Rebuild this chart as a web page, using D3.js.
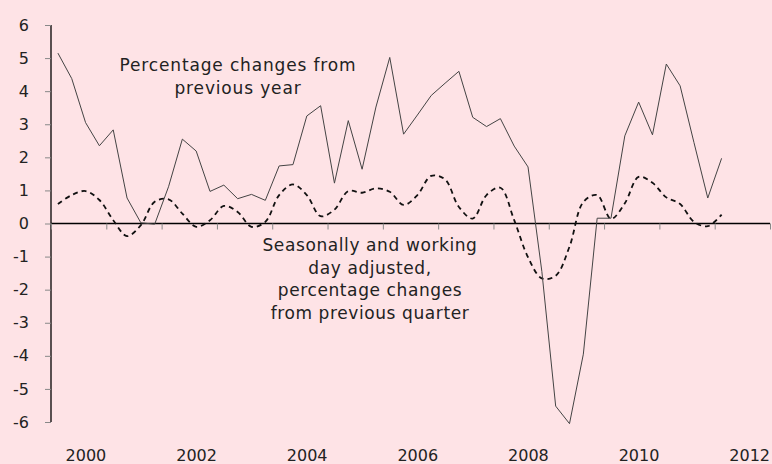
<!DOCTYPE html>
<html>
<head>
<meta charset="utf-8">
<script src="https://cdn.jsdelivr.net/npm/d3@7"></script>
<style>
  html, body { margin: 0; padding: 0; background: #fee3e6; }
  svg text { font-family: "DejaVu Sans", sans-serif; fill: #222; }
</style>
</head>
<body>
<div id="chart"></div>
<script>
// quarters 1999Q1 .. 2011Q1
const quarters = [];
for (let yr = 1999; yr <= 2011; yr++) {
  for (let q = 1; q <= 4; q++) {
    if (yr === 2011 && q > 1) break;
    quarters.push(yr + "Q" + q);
  }
}
// percentage changes from previous year (solid)
const yoy = [
  5.15, 4.38, 3.05, 2.35, 2.83, 0.77, 0.02, -0.02, 1.11, 2.55, 2.19, 0.97,
  1.16, 0.75, 0.88, 0.70, 1.74, 1.78, 3.25, 3.56, 1.22, 3.11, 1.64, 3.52,
  5.02, 2.70, 3.28, 3.87, 4.24, 4.60, 3.21, 2.93, 3.17, 2.34, 1.71, -1.45,
  -5.52, -6.05, -3.95, 0.16, 0.16, 2.65, 3.67, 2.68, 4.82, 4.16, 2.45, 0.77,
  1.97
];
// seasonally adjusted, changes from previous quarter (dashed)
const qoq = [
  0.59, 0.86, 0.98, 0.71, 0.10, -0.38, -0.05, 0.66, 0.73, 0.30, -0.10, 0.10,
  0.53, 0.35, -0.10, 0.05, 0.86, 1.18, 0.86, 0.22, 0.42, 0.98, 0.93, 1.06,
  0.96, 0.56, 0.86, 1.44, 1.33, 0.50, 0.15, 0.86, 1.08, 0.10, -1.02, -1.66,
  -1.58, -0.70, 0.65, 0.86, 0.14, 0.61, 1.41, 1.23, 0.79, 0.59, 0.05, -0.08,
  0.27
];
const yTicks = [6, 5, 4, 3, 2, 1, 0, -1, -2, -3, -4, -5, -6];
const yearTicks = d3.range(1999, 2013);
const yearLabels = ["2000", "2002", "2004", "2006", "2008", "2010", "2012"];

const W = 772, H = 464;
const svg = d3.select("#chart").append("svg")
  .attr("width", W).attr("height", H);

svg.append("rect").attr("width", W).attr("height", H).attr("fill", "#fee3e6");

const x = d3.scaleLinear().domain([1999, 2012]).range([51, 770]);
const y = d3.scaleLinear().domain([-6, 6]).range([422, 25]);

function qPos(s) {
  const yr = +s.slice(0, 4), q = +s.slice(5);
  return yr + (q - 0.5) / 4;
}

// y axis
const yAxis = svg.append("g")
  .attr("transform", "translate(51,0)")
  .call(d3.axisLeft(y).tickValues(yTicks).tickSize(6).tickPadding(16).tickFormat(d => String(d)));
yAxis.select(".domain").attr("stroke", "#000").attr("stroke-width", 1.3).attr("d", "M0," + y(6) + "V" + y(-6));
yAxis.selectAll(".tick line").attr("stroke", "#888");
yAxis.selectAll("text").style("font-size", "16px").attr("fill", "#222");

// x axis at zero
const xAxis = svg.append("g")
  .attr("transform", "translate(0," + y(0) + ")")
  .call(d3.axisBottom(x).tickValues(yearTicks).tickSize(6).tickFormat(""));
xAxis.select(".domain").attr("stroke", "#000").attr("stroke-width", 1.3).attr("d", "M" + x(1999) + ",0H" + x(2012));
xAxis.selectAll(".tick line").attr("stroke", "#888");

// year labels at the bottom
svg.append("g")
  .selectAll("text")
  .data(yearLabels)
  .enter()
  .append("text")
  .attr("x", d => x(+d))
  .attr("y", 461)
  .attr("text-anchor", "end")
  .style("font-size", "16px")
  .text(d => d);

// lines
const solid = d3.line()
  .x((d, i) => x(qPos(quarters[i])))
  .y(d => y(d));
const dashed = d3.line()
  .curve(d3.curveCatmullRom.alpha(0.5))
  .x((d, i) => x(qPos(quarters[i])))
  .y(d => y(d));

svg.append("path")
  .datum(qoq)
  .attr("d", dashed)
  .attr("fill", "none")
  .attr("stroke", "#111")
  .attr("stroke-width", 1.8)
  .attr("stroke-dasharray", "5,4");

svg.append("path")
  .datum(yoy)
  .attr("d", solid)
  .attr("fill", "none")
  .attr("stroke", "#444")
  .attr("stroke-width", 1);

// annotations
function note(lines, cx, y0, dy, ls) {
  const t = svg.append("text")
    .attr("text-anchor", "middle")
    .style("font-size", "17px")
    .style("letter-spacing", ls + "px");
  lines.forEach((l, i) => {
    t.append("tspan").attr("x", cx).attr("y", y0 + i * dy).text(l);
  });
}
note(["Percentage changes from", "previous year"], 238, 70.7, 23.4, 0.85);
note(["Seasonally and working", "day adjusted,", "percentage changes", "from previous quarter"], 370, 250.7, 22.8, 0.6);
</script>
</body>
</html>
